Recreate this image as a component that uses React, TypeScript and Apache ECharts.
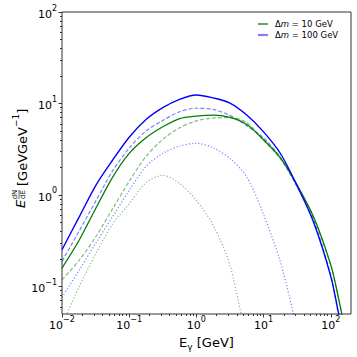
import React, { useEffect, useRef } from "react";
import * as echarts from "echarts";

// Photon energy grid (GeV)
const energyGeV = [0.01, 0.0178, 0.0316, 0.0562, 0.1, 0.178, 0.316, 0.562, 1, 1.78, 3.16, 5.62, 10, 17.8, 31.6, 56.2, 100, 126, 158];

// E dN/dE [GeV GeV^-1]
const dm10Total = [0.159, 0.316, 0.708, 1.55, 2.85, 4.22, 5.56, 6.84, 7.28, 7.45, 7.03, 5.89, 4.01, 2.54, 1.28, 0.562, 0.172, 0.084, 0.037];
const dm100Total = [0.252, 0.565, 1.26, 2.38, 4.27, 6.67, 9.0, 11.1, 12.4, 11.5, 10.1, 7.47, 4.89, 2.84, 1.26, 0.49, 0.129, 0.058, 0.025];
const dm10Dashed = [0.118, 0.191, 0.347, 0.7, 1.41, 2.64, 4.05, 5.42, 6.46, 6.92, 7.0, 6.17, 3.95, 2.5, 1.25, 0.555, 0.17, 0.084, 0.037];
const dm100Dashed = [0.188, 0.398, 0.851, 1.82, 3.26, 5.01, 6.53, 8.13, 8.87, 8.61, 7.41, 5.7, 4.2, 2.57, 1.23, 0.513, 0.132, 0.056, 0.024];
const dm10Dotted = [0.038, 0.0975, 0.225, 0.479, 0.8, 1.36, 1.64, 1.34, 0.87, 0.466, 0.171, 0.024, null, null, null, null, null, null, null];
const dm100Dotted = [0.076, 0.149, 0.295, 0.575, 1.12, 2.06, 2.85, 3.43, 3.67, 3.28, 2.5, 1.58, 0.61, 0.185, 0.034, null, null, null, null];

const xMajor = [0.01, 0.1, 1, 10, 100];
const yMajor = [0.1, 1, 10, 100];
const X_MIN = 0.01, X_MAX = 200, Y_MIN = 0.05, Y_MAX = 100;

const lg = Math.log10;
const FONT = "DejaVu Sans";

const minorTicks = (lo: number, hi: number) => {
  const out: number[] = [];
  for (let n = -3; n <= 3; n++) {
    for (let k = 2; k <= 9; k++) {
      const v = k * Math.pow(10, n);
      if (v > lo * 1.0001 && v < hi * 0.9999) out.push(lg(v));
    }
  }
  return out;
};

const supLabel = (v: number) => {
  const n = Math.round(v);
  return `{b|10}{s|${n < 0 ? "\u2212" + -n : n}}`;
};

const labelRich = {
  b: { fontSize: 11, fontFamily: FONT, color: "#000", lineHeight: 16, verticalAlign: "bottom" },
  s: { fontSize: 8, fontFamily: FONT, color: "#000", lineHeight: 4, verticalAlign: "top" },
};

const toPts = (vals: (number | null)[]) =>
  energyGeV
    .map((e, i) => (vals[i] == null ? null : [lg(e), lg(vals[i] as number)]))
    .filter((p) => p !== null);

const GREEN = "#008000";
const BLUE = "#0000ff";
const GREEN_A = "rgba(0,128,0,0.5)";
const BLUE_A = "rgba(0,0,255,0.5)";

export default function App() {
  const ref = useRef<HTMLDivElement>(null);
  useEffect(() => {
    if (!ref.current) return;
    const chart = echarts.init(ref.current, undefined, { renderer: "svg" });
    const axisColor = "#333";
    const mkLine = (name: string, vals: (number | null)[], color: string, type: any, width: number) => ({
      type: "line",
      name,
      data: toPts(vals),
      showSymbol: false,
      smooth: 0.3,
      lineStyle: { color, width, type },
      itemStyle: { color },
      xAxisIndex: 0,
      yAxisIndex: 0,
      z: 2,
    });
    const hiddenLine = { show: false, onZero: false };
    chart.setOption({
      animation: false,
      grid: { left: 62, right: 6, top: 12, bottom: 43, show: true, borderColor: axisColor, borderWidth: 1, backgroundColor: "transparent" },
      xAxis: [
        {
          type: "value",
          min: lg(X_MIN),
          max: lg(X_MAX),
          position: "bottom",
          axisLine: hiddenLine,
          splitLine: { show: false },
          axisTick: { show: true, length: 3.5, lineStyle: { color: axisColor }, customValues: xMajor.map(lg) },
          axisLabel: { margin: 1, formatter: supLabel, rich: labelRich, customValues: xMajor.map(lg) },
          name: "{e|E}{g|\u03b3}{e| [GeV]}",
          nameLocation: "middle",
          nameGap: 20,
          nameTextStyle: {
            rich: {
              e: { fontSize: 13, fontFamily: FONT, color: "#000", lineHeight: 16, verticalAlign: "top" },
              g: { fontSize: 9, fontFamily: FONT, color: "#000", lineHeight: 10, verticalAlign: "bottom" },
            },
          },
        },
        {
          type: "value",
          min: lg(X_MIN),
          max: lg(X_MAX),
          position: "bottom",
          axisLine: hiddenLine,
          splitLine: { show: false },
          axisLabel: { show: false },
          axisTick: { show: true, length: 2, lineStyle: { color: axisColor }, customValues: minorTicks(X_MIN, X_MAX) },
        },
      ],
      yAxis: [
        {
          type: "value",
          min: lg(Y_MIN),
          max: lg(Y_MAX),
          position: "left",
          axisLine: hiddenLine,
          splitLine: { show: false },
          axisTick: { show: true, length: 3.5, lineStyle: { color: axisColor }, customValues: yMajor.map(lg) },
          axisLabel: { margin: 5, formatter: supLabel, rich: labelRich, customValues: yMajor.map(lg) },
        },
        {
          type: "value",
          min: lg(Y_MIN),
          max: lg(Y_MAX),
          position: "left",
          axisLine: hiddenLine,
          splitLine: { show: false },
          axisLabel: { show: false },
          axisTick: { show: true, length: 2, lineStyle: { color: axisColor }, customValues: minorTicks(Y_MIN, Y_MAX) },
        },
      ],
      series: [
        mkLine("dm10 dotted", dm10Dotted, GREEN_A, [1.2, 2], 1.2),
        mkLine("dm100 dotted", dm100Dotted, BLUE_A, [1.2, 2], 1.2),
        mkLine("dm10 dashed", dm10Dashed, GREEN_A, [4, 2], 1.2),
        mkLine("dm100 dashed", dm100Dashed, BLUE_A, [4, 2], 1.2),
        mkLine("\u0394m = 10 GeV", dm10Total, GREEN, "solid", 1.3),
        mkLine("\u0394m = 100 GeV", dm100Total, BLUE, "solid", 1.4),
      ],
      graphic: [
        // legend
        { type: "line", shape: { x1: 258, y1: 24, x2: 268, y2: 24 }, style: { stroke: GREEN, lineWidth: 1.3 } },
        {
          type: "text",
          x: 275,
          y: 24,
          style: {
            text: "{a|\u0394}{i|m}{a| = 10 GeV}",
            verticalAlign: "middle",
            rich: {
              a: { fontSize: 8.5, fontFamily: FONT, fill: "#000" },
              i: { fontSize: 8.5, fontFamily: FONT, fontStyle: "italic", fill: "#000" },
            },
          },
        },
        { type: "line", shape: { x1: 258, y1: 35, x2: 268, y2: 35 }, style: { stroke: BLUE_A, lineWidth: 2.2 } },
        {
          type: "text",
          x: 275,
          y: 35,
          style: {
            text: "{a|\u0394}{i|m}{a| = 100 GeV}",
            verticalAlign: "middle",
            rich: {
              a: { fontSize: 8.5, fontFamily: FONT, fill: "#000" },
              i: { fontSize: 8.5, fontFamily: FONT, fontStyle: "italic", fill: "#000" },
            },
          },
        },
        // y-axis label
        {
          type: "group",
          x: 20,
          y: 208,
          rotation: Math.PI / 2,
          children: [
            { type: "text", x: 0, y: 0, style: { text: "E", fontSize: 13, fontStyle: "italic", fontFamily: FONT, fill: "#000", verticalAlign: "middle", align: "left" } },
            { type: "text", x: 13.5, y: -1.5, style: { text: "dN", fontSize: 7, fontFamily: FONT, fill: "#000", verticalAlign: "bottom", align: "center" } },
            { type: "line", shape: { x1: 9, y1: -1, x2: 18, y2: -1 }, style: { stroke: "#000", lineWidth: 0.6 } },
            { type: "text", x: 13.5, y: -0.5, style: { text: "dE", fontSize: 7, fontFamily: FONT, fill: "#000", verticalAlign: "top", align: "center" } },
            {
              type: "text",
              x: 22,
              y: 0,
              style: {
                text: "{a|[GeVGeV}{s|\u22121}{a|]}",
                verticalAlign: "middle",
                align: "left",
                rich: {
                  a: { fontSize: 13, fontFamily: FONT, fill: "#000", lineHeight: 18, verticalAlign: "bottom" },
                  s: { fontSize: 9, fontFamily: FONT, fill: "#000", lineHeight: 8, verticalAlign: "top" },
                },
              },
            },
          ],
        },
      ],
    });
    return () => chart.dispose();
  }, []);
  return <div ref={ref} style={{ position: "fixed", left: 0, top: 0, width: 357, height: 357, background: "#fff" }} />;
}
